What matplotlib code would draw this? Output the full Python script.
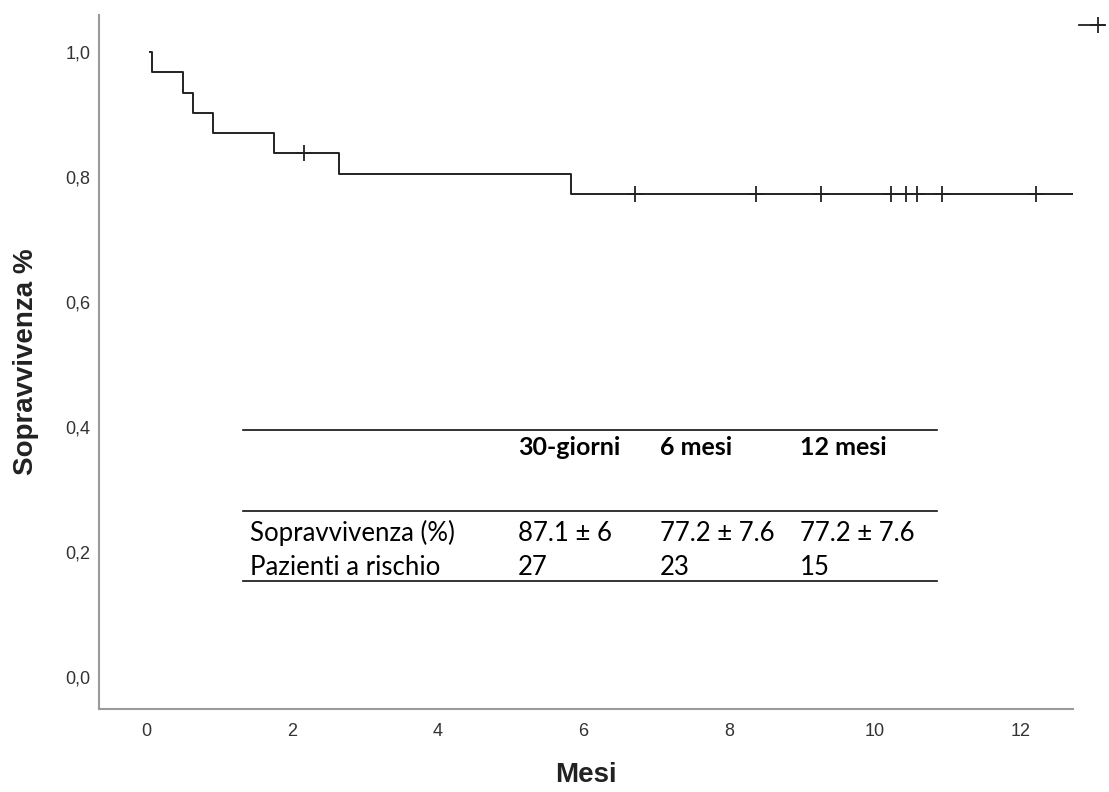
import numpy as np
import matplotlib.pyplot as plt
from matplotlib.lines import Line2D

# Kaplan-Meier steps
event_times = [0.0, 0.08, 0.51, 0.65, 0.92, 1.76, 2.65, 5.83]
survival = [1.0, 0.968, 0.935, 0.903, 0.871, 0.839, 0.805, 0.772]
end_time = 12.72
start_time = 0.05

# censored observations (time, survival at that time)
censor_times = [2.17, 6.71, 8.37, 9.26, 10.22, 10.43, 10.58, 10.92, 12.21]
censor_surv = [0.839, 0.772, 0.772, 0.772, 0.772, 0.772, 0.772, 0.772, 0.772]

y_ticks = [0.0, 0.2, 0.4, 0.6, 0.8, 1.0]
y_tick_labels = ["0,0", "0,2", "0,4", "0,6", "0,8", "1,0"]
x_ticks = [0, 2, 4, 6, 8, 10, 12]

table_cols = ["30-giorni", "6 mesi", "12 mesi"]
table_rows = ["Sopravvivenza (%)", "Pazienti a rischio"]
table_vals = [["87.1 \u00b1 6", "77.2 \u00b1 7.6", "77.2 \u00b1 7.6"],
              ["27", "23", "15"]]

fig = plt.figure(figsize=(11.09, 7.92), dpi=100)
ax = fig.add_axes([0.0893, 0.1048, 0.8782, 0.8762])

xs = [start_time] + event_times[1:] + [end_time]
ys = survival + [survival[-1]]
ax.step(xs, ys, where="post", color="#222222", lw=1.4)
ax.plot(censor_times, censor_surv, ls="none", marker="+", ms=11, mew=1.3, color="#222222")

ax.set_xlim(-0.645, 12.72)
ax.set_ylim(-0.0512, 1.059)
ax.set_xticks(x_ticks)
ax.set_yticks(y_ticks)
ax.set_yticklabels(y_tick_labels)
ax.tick_params(length=0, labelsize=13, labelcolor="#333333")
ax.tick_params(axis="y", pad=6)
ax.tick_params(axis="x", pad=10)
for s in ["top", "right"]:
    ax.spines[s].set_visible(False)
for s in ["left", "bottom"]:
    ax.spines[s].set_color("#9a9a9a")
    ax.spines[s].set_linewidth(1.5)

ax.set_xlabel("Mesi", fontsize=20, fontweight="bold", family="Liberation Sans", color="#222222")
ax.set_ylabel("Sopravvivenza %", fontsize=20, fontweight="bold", family="Liberation Sans", color="#222222")
ax.xaxis.set_label_coords(0.5, -0.095)
ax.yaxis.set_label_coords(-0.075, 0.5)
ax.xaxis.label.set_va("center")
ax.yaxis.label.set_va("center")
for lab in ax.get_xticklabels() + ax.get_yticklabels():
    lab.set_family("Liberation Sans")

# summary table inside the plot
tx0, tx1 = 0.148, 0.860
col_x = [0.430, 0.576, 0.720]
for yl in [0.402, 0.285, 0.184]:
    ax.plot([tx0, tx1], [yl, yl], transform=ax.transAxes, color="#111111", lw=1.2)
for cx, c in zip(col_x, table_cols):
    ax.text(cx, 0.3775, c, transform=ax.transAxes, fontsize=18, fontweight="bold",
            family="Lato", va="center", ha="left")
row_y = [0.2536, 0.2045]
for ry, rlab, vals in zip(row_y, table_rows, table_vals):
    ax.text(0.155, ry, rlab, transform=ax.transAxes, fontsize=18.5, family="Lato", va="center")
    for cx, v in zip(col_x, vals):
        ax.text(cx, ry, v, transform=ax.transAxes, fontsize=18.5, family="Lato", va="center")

# legend cut off at the right edge
handles = [Line2D([], [], color="#222222", lw=1.3),
           Line2D([], [], color="#222222", lw=1.3, marker="+", ms=11, mew=1.3)]
fig.legend(handles, ["", ""], loc="upper left", bbox_to_anchor=(0.967, 0.985),
           ncol=2, frameon=False, handlelength=0.9, handletextpad=0, columnspacing=0,
           borderpad=0)

fig.savefig("out.png", dpi=100)
